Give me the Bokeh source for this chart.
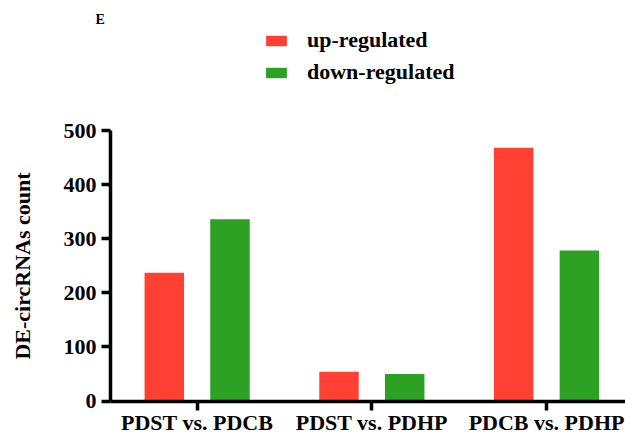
from bokeh.plotting import figure
from bokeh.models import (ColumnDataSource, Range1d, FixedTicker, Legend, LegendItem, Label)
from bokeh.transform import dodge
from bokeh.embed import file_html
from bokeh.resources import INLINE

# Differentially expressed circRNA counts per comparison
comparisons = ["PDST vs. PDCB", "PDST vs. PDHP", "PDCB vs. PDHP"]
up_regulated = [237, 54, 468]
down_regulated = [336, 50, 278]
y_ticks = [0, 100, 200, 300, 400, 500]
series_names = ["up-regulated", "down-regulated"]

RED = "#FF4032"
GREEN = "#2CA124"
FONT = "Liberation Serif"

W, H = 625, 437
# The frame covers the whole canvas so that the legend, the panel letter and
# the tick labels are all drawn inside it; both axes are pinned at fixed
# data locations and bounded to the plotted extent.
PX_PER_CAT = 174.7
AXIS_X = -0.496          # category coordinate of the value axis
AXIS_LEFT_PX = 110       # where that axis sits on the canvas
ZERO_PX = 400.5          # canvas row of value 0
PX_PER_UNIT = 270.5 / max(y_ticks)

source = ColumnDataSource(dict(
    pos=list(range(len(comparisons))),
    up=up_regulated,
    down=down_regulated,
))

p = figure(width=W, height=H, output_backend="svg", toolbar_location=None,
           x_range=Range1d(AXIS_X - AXIS_LEFT_PX / PX_PER_CAT,
                           AXIS_X + (W - AXIS_LEFT_PX) / PX_PER_CAT),
           y_range=Range1d(-(H - ZERO_PX) / PX_PER_UNIT, ZERO_PX / PX_PER_UNIT),
           min_border=0)

bar_w = 0.226
r_up = p.vbar(x=dodge("pos", -0.188), top="up", width=bar_w, source=source,
              fill_color=RED, line_color=None)
r_down = p.vbar(x=dodge("pos", 0.188), top="down", width=bar_w, source=source,
                fill_color=GREEN, line_color=None)

p.xgrid.visible = False
p.ygrid.visible = False
p.outline_line_color = None

for ax in (p.xaxis[0], p.yaxis[0]):
    ax.axis_line_width = 3.5
    ax.axis_line_color = "black"
    ax.major_tick_line_width = 3.5
    ax.major_tick_line_color = "black"
    ax.major_tick_out = 9
    ax.major_tick_in = 0
    ax.minor_tick_line_color = None
    ax.major_label_text_font = FONT
    ax.major_label_text_font_style = "bold"
    ax.major_label_text_color = "black"

p.xaxis.fixed_location = 0
p.xaxis.bounds = (AXIS_X, p.x_range.end)
p.xaxis.ticker = FixedTicker(ticks=list(range(len(comparisons))))
p.xaxis.major_label_overrides = {i: c for i, c in enumerate(comparisons)}
p.xaxis.major_label_text_font_size = "22px"
p.xaxis.major_label_standoff = 0

p.yaxis.fixed_location = AXIS_X
p.yaxis.bounds = (0, max(y_ticks))
p.yaxis.ticker = FixedTicker(ticks=y_ticks)
p.yaxis.major_label_text_font_size = "22px"
p.yaxis.major_label_standoff = 5
p.yaxis.axis_label = "DE-circRNAs count"
p.yaxis.axis_label_text_font = FONT
p.yaxis.axis_label_text_font_style = "bold"
p.yaxis.axis_label_text_font_size = "22px"
p.yaxis.axis_label_text_color = "black"
p.yaxis.axis_label_standoff = 26

legend = Legend(items=[LegendItem(label=series_names[0], renderers=[r_up]),
                       LegendItem(label=series_names[1], renderers=[r_down])],
                location=(263, H - 85), orientation="vertical",
                glyph_width=26, glyph_height=13, label_standoff=18,
                label_text_font=FONT, label_text_font_style="bold",
                label_text_font_size="22px", label_text_color="black",
                label_height=26, spacing=6, padding=0, margin=0,
                border_line_color=None, background_fill_alpha=0)
p.add_layout(legend, "center")

p.add_layout(Label(x=95, y=H - 19, x_units="screen", y_units="screen", text="E",
                   text_font=FONT, text_font_style="bold", text_font_size="14px",
                   text_baseline="alphabetic", text_color="black"))

open("out.html", "w").write(file_html(p, INLINE))
